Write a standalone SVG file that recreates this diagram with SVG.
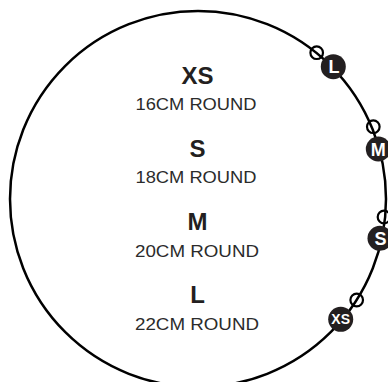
<svg xmlns="http://www.w3.org/2000/svg" width="388" height="382" viewBox="0 0 388 382">
  <style>
    .band { fill: none; stroke: #000; stroke-width: 2.5; }
    .hole { fill: none; stroke: #000; stroke-width: 2.2; }
    .badge { fill: #231f20; }
    .btxt { fill: #fff; font-family: "Liberation Sans", "DejaVu Sans", sans-serif; font-weight: bold; text-anchor: middle; }
    .size { fill: #231f20; font-family: "Liberation Sans", "DejaVu Sans", sans-serif; font-weight: bold; font-size: 24px; text-anchor: middle; }
    .desc { fill: #2b2b2b; font-family: "Liberation Sans", "DejaVu Sans", sans-serif; font-size: 16.5px; text-anchor: middle; }
  </style>
  <rect width="388" height="382" fill="#fff"/>
  <g id="connectors">
    <circle class="band" cx="198" cy="199" r="188"/>
  </g>
  <g id="marker-L">
    <circle class="hole" cx="316.7" cy="52.7" r="6.3"/>
    <circle class="badge" cx="333.3" cy="66.7" r="12.5"/>
    <text class="btxt" x="334" y="73.2" font-size="18">L</text>
  </g>
  <g id="marker-M">
    <circle class="hole" cx="373.3" cy="126.7" r="6.3"/>
    <circle class="badge" cx="378.3" cy="149" r="12.5"/>
    <text class="btxt" x="378.3" y="155.5" font-size="18">M</text>
  </g>
  <g id="marker-S">
    <circle class="hole" cx="384" cy="217" r="6.3"/>
    <circle class="badge" cx="380" cy="238.3" r="12.5"/>
    <text class="btxt" x="380.5" y="244.8" font-size="18">S</text>
  </g>
  <g id="marker-XS">
    <circle class="hole" cx="356.7" cy="300" r="6.3"/>
    <circle class="badge" cx="340.7" cy="319.3" r="12.5"/>
    <text class="btxt" x="340.7" y="324.4" font-size="14">XS</text>
  </g>
  <g id="size-XS">
    <text class="size" x="197.5" y="84">XS</text>
    <text class="desc" x="196" y="110" textLength="121" lengthAdjust="spacingAndGlyphs">16CM ROUND</text>
  </g>
  <g id="size-S">
    <text class="size" x="197.5" y="157">S</text>
    <text class="desc" x="196" y="182.7" textLength="121" lengthAdjust="spacingAndGlyphs">18CM ROUND</text>
  </g>
  <g id="size-M">
    <text class="size" x="197.5" y="230">M</text>
    <text class="desc" x="197" y="257" textLength="124" lengthAdjust="spacingAndGlyphs">20CM ROUND</text>
  </g>
  <g id="size-L">
    <text class="size" x="197.5" y="302.7">L</text>
    <text class="desc" x="197" y="330" textLength="124" lengthAdjust="spacingAndGlyphs">22CM ROUND</text>
  </g>
</svg>
